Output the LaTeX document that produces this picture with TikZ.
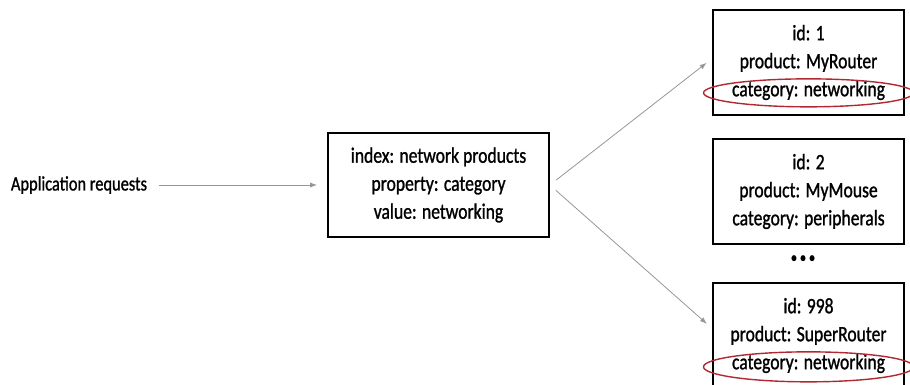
\documentclass[tikz,border=0pt]{standalone}
\usepackage{fontspec}
\setmainfont{Carlito}[FakeStretch=0.8,FakeBold=1.1]
\usetikzlibrary{arrows.meta,calc,positioning}
\definecolor{figR}{RGB}{178,40,48}
\definecolor{figA}{RGB}{150,150,150}

\begin{document}
\begin{tikzpicture}[x=1pt,y=-1pt,>={Latex[length=7pt,width=5pt]},
  rec/.style={draw,line width=1.7pt,align=center,inner sep=0pt,minimum width=191pt,
    minimum height=105pt,font=\fontsize{22}{28}\selectfont},
  link/.style={->,figA,line width=0.8pt,shorten >=7pt,shorten <=8pt},
  ring/.style={figR,line width=1.4pt}]
\useasboundingbox (0,0) rectangle (910,385);
\node[font=\fontsize{20.5}{22}\selectfont] (app) at (79,185) {Application requests};
\node[rec,minimum width=221pt,minimum height=104pt] (idx) at (438.5,185)
  {index: network products\\property: category\\value: networking};
\node[rec] (r1) at (808.5,62.5) {id: 1\\product: MyRouter\\category: networking};
\node[rec] (r2) at (808.5,191.5) {id: 2\\product: MyMouse\\category: peripherals};
\node[font=\fontsize{16}{17}\selectfont] (dots) at (803,259) {\textbullet\,\textbullet\,\textbullet};
\node[rec] (r3) at (808.5,335.5) {id: 998\\product: SuperRouter\\category: networking};
\draw[ring] ([yshift=23pt]r1.south) ellipse (105pt and 14pt);   % matched record 1
\draw[ring] ([yshift=22pt]r3.south) ellipse (105pt and 15pt);   % matched record 998
\draw[link,shorten <=8pt,shorten >=10pt] (app) -- (idx);
\draw[link] (idx.east) -- ([yshift=4pt]r1.west);
\draw[link] (idx.east) -- ([yshift=7pt]r3.west);
\end{tikzpicture}
\end{document}
